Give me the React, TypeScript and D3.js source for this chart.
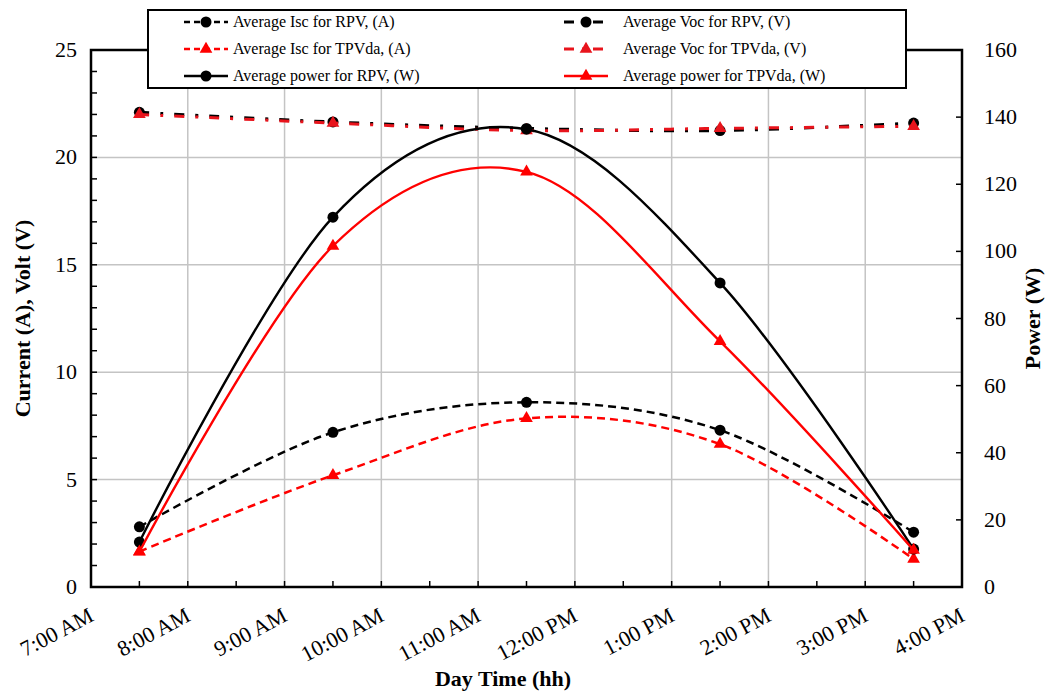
import React, { useEffect, useRef } from 'react';
import * as d3 from 'd3';

// hours of the day, measurements taken on the half hour
const times = [7.5, 9.5, 11.5, 13.5, 15.5];
const hourTicks = [7, 8, 9, 10, 11, 12, 13, 14, 15, 16];
const hourLabels = ['7:00 AM', '8:00 AM', '9:00 AM', '10:00 AM', '11:00 AM', '12:00 PM', '1:00 PM', '2:00 PM', '3:00 PM', '4:00 PM'];

const iscRPV = [2.8, 7.2, 8.6, 7.3, 2.55];
const vocRPV = [22.1, 21.65, 21.35, 21.25, 21.6];
const iscTPVda = [1.65, 5.2, 7.85, 6.65, 1.3];
const vocTPVda = [22.0, 21.6, 21.25, 21.35, 21.45];
const powerRPV = [13.4, 110.2, 136.4, 90.6, 11.3];
const powerTPVda = [10.5, 101.6, 123.7, 73.2, 11.0];

const leftTicks = [0, 5, 10, 15, 20, 25];
const rightTicks = [0, 20, 40, 60, 80, 100, 120, 140, 160];

const App = () => {
  const svgRef = useRef(null);

  useEffect(() => {
    const width = 1051;
    const height = 693;
    const margin = { top: 50, right: 89, bottom: 106, left: 91 };
    const font = '"Liberation Serif", "Times New Roman", serif';

    const svg = d3.select(svgRef.current);
    svg.selectAll('*').remove();

    const x = d3.scaleLinear().domain([7, 16]).range([margin.left, width - margin.right]);
    const yL = d3.scaleLinear().domain([0, 25]).range([height - margin.bottom, margin.top]);
    const yR = d3.scaleLinear().domain([0, 160]).range([height - margin.bottom, margin.top]);
    const x0 = margin.left, x1 = width - margin.right;
    const y0 = height - margin.bottom, y1 = margin.top;

    // gridlines
    const grid = svg.append('g').attr('stroke', '#c4c4c4').attr('stroke-width', 1.5);
    hourTicks.slice(1, -1).forEach((h) => {
      grid.append('line').attr('x1', x(h)).attr('x2', x(h)).attr('y1', y0).attr('y2', y1);
    });
    leftTicks.slice(1, -1).forEach((v) => {
      grid.append('line').attr('x1', x0).attr('x2', x1).attr('y1', yL(v)).attr('y2', yL(v));
    });

    // tick marks (inside)
    const ticks = svg.append('g').attr('stroke', '#000').attr('stroke-width', 1.5);
    d3.range(0, 26).forEach((v) => {
      ticks.append('line').attr('x1', x0).attr('x2', x0 + 6).attr('y1', yL(v)).attr('y2', yL(v));
    });
    rightTicks.forEach((v) => {
      ticks.append('line').attr('x1', x1).attr('x2', x1 - 6).attr('y1', yR(v)).attr('y2', yR(v));
    });
    d3.range(7, 16.01, 0.5).forEach((h) => {
      ticks.append('line').attr('x1', x(h)).attr('x2', x(h)).attr('y1', y0).attr('y2', y0 - 6);
    });

    // tick labels
    svg.append('g').selectAll('text').data(leftTicks).enter().append('text')
      .attr('x', x0 - 14).attr('y', (d) => yL(d) + 7)
      .attr('text-anchor', 'end').attr('font-family', font).attr('font-size', 22)
      .text((d) => d);
    svg.append('g').selectAll('text').data(rightTicks).enter().append('text')
      .attr('x', x1 + 22).attr('y', (d) => yR(d) + 7)
      .attr('text-anchor', 'start').attr('font-family', font).attr('font-size', 22)
      .text((d) => d);
    svg.append('g').selectAll('text').data(hourTicks).enter().append('text')
      .attr('transform', (d) => `translate(${x(d) + 4}, ${y0 + 33}) rotate(-28)`)
      .attr('text-anchor', 'end').attr('font-family', font).attr('font-size', 22)
      .text((d, i) => hourLabels[i]);

    // axis titles
    svg.append('text')
      .attr('transform', `translate(30, ${(y0 + y1) / 2}) rotate(-90)`)
      .attr('text-anchor', 'middle').attr('font-family', font).attr('font-size', 22).attr('font-weight', 'bold')
      .text('Current (A), Volt (V)');
    svg.append('text')
      .attr('transform', `translate(1040, ${(y0 + y1) / 2}) rotate(-90)`)
      .attr('text-anchor', 'middle').attr('font-family', font).attr('font-size', 22).attr('font-weight', 'bold')
      .text('Power (W)');
    svg.append('text')
      .attr('x', 503).attr('y', 686)
      .attr('text-anchor', 'middle').attr('font-family', font).attr('font-size', 22).attr('font-weight', 'bold')
      .text('Day Time (hh)');

    const series = [
      { name: 'Average Isc for RPV, (A)', values: iscRPV, y: yL, color: '#000', dash: '8,5', width: 2.5, marker: 'circle' },
      { name: 'Average Voc for RPV,  (V)', values: vocRPV, y: yL, color: '#000', dash: '10,11,3,11', width: 3, marker: 'circle' },
      { name: 'Average Isc for TPVda, (A)', values: iscTPVda, y: yL, color: '#ff0000', dash: '8,5', width: 2.5, marker: 'triangle' },
      { name: 'Average Voc for TPVda, (V)', values: vocTPVda, y: yL, color: '#e8141c', dash: '10,11,3,11', width: 3, marker: 'triangle' },
      { name: 'Average power for RPV, (W)', values: powerRPV, y: yR, color: '#000', dash: null, width: 2.4, marker: 'circle' },
      { name: 'Average power for TPVda, (W)', values: powerTPVda, y: yR, color: '#ff0000', dash: null, width: 2.4, marker: 'triangle' },
    ];

    const drawMarker = (g, kind, color, cx, cy) => {
      if (kind === 'circle') {
        g.append('circle').attr('cx', cx).attr('cy', cy).attr('r', 5.5).attr('fill', color);
      } else {
        g.append('path')
          .attr('d', d3.symbol().type(d3.symbolTriangle).size(70)())
          .attr('transform', `translate(${cx}, ${cy})`)
          .attr('fill', color);
      }
    };

    series.forEach((s) => {
      const line = d3.line()
        .x((d, i) => x(times[i]))
        .y((d) => s.y(d))
        .curve(d3.curveCardinal.tension(0));
      const g = svg.append('g');
      g.append('path')
        .attr('d', line(s.values))
        .attr('fill', 'none')
        .attr('stroke', s.color)
        .attr('stroke-width', s.width)
        .attr('stroke-dasharray', s.dash);
      s.values.forEach((v, i) => drawMarker(g, s.marker, s.color, x(times[i]), s.y(v)));
    });

    // frame
    svg.append('rect')
      .attr('x', x0).attr('y', y1).attr('width', x1 - x0).attr('height', y0 - y1)
      .attr('fill', 'none').attr('stroke', '#000').attr('stroke-width', 2.5);

    // legend
    const legend = svg.append('g');
    legend.append('rect')
      .attr('x', 148).attr('y', 10).attr('width', 758).attr('height', 78)
      .attr('fill', '#fff').attr('stroke', '#000').attr('stroke-width', 2);
    series.forEach((s, i) => {
      const col = i % 2;
      const row = Math.floor(i / 2);
      const lx = col === 0 ? 184 : 564;
      const ly = 22 + row * 27;
      const item = legend.append('g');
      item.append('line')
        .attr('x1', lx).attr('x2', lx + 44).attr('y1', ly).attr('y2', ly)
        .attr('stroke', s.color).attr('stroke-width', s.width)
        .attr('stroke-dasharray', s.dash ? (col === 0 ? '6,4' : '10,8,3,8') : null);
      drawMarker(item, s.marker, s.color, lx + 22, ly);
      item.append('text')
        .attr('x', lx + 49 + (col === 1 ? 10 : 0)).attr('y', ly + 5)
        .attr('font-family', font).attr('font-size', 16)
        .text(s.name);
    });
  }, []);

  return (
    <svg ref={svgRef} width={1051} height={693} style={{ position: 'absolute', left: 0, top: 0, background: '#fff' }}></svg>
  );
};

export default App;
